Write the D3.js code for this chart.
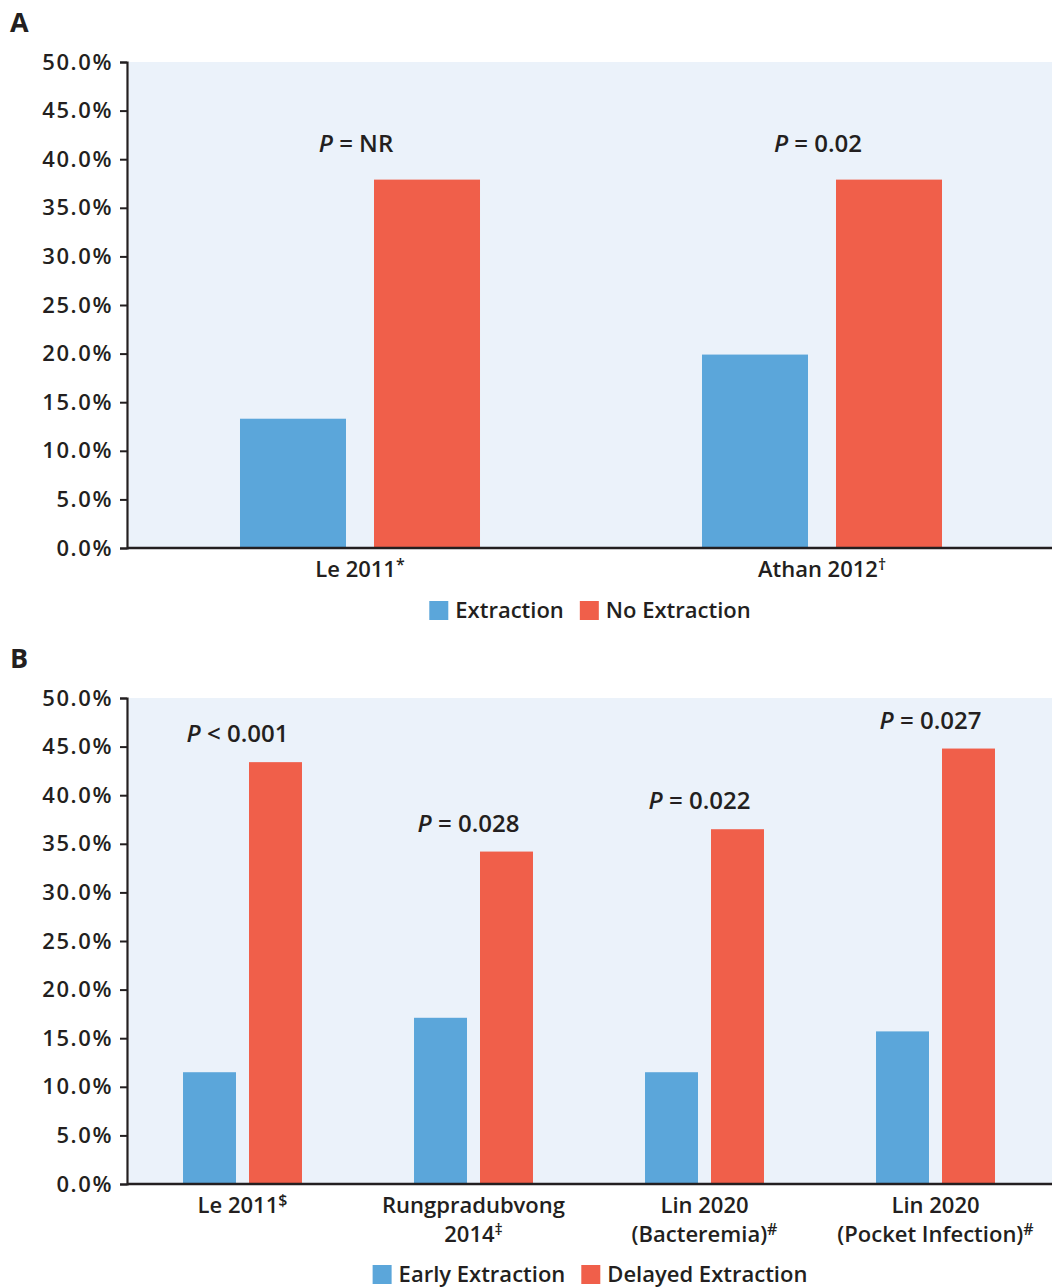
<!DOCTYPE html>
<html>
<head>
<meta charset="utf-8">
<script src="https://cdn.jsdelivr.net/npm/d3@7"></script>
<style>
  body { margin: 0; background: #fff; }
  svg text { font-family: "Open Sans", "Noto Sans", sans-serif; fill: #231F20; font-weight: 600; }
</style>
</head>
<body>
<div class="graph"></div>
<script>
// data - panel A
let categoriesA = [["Le 2011", "*"], ["Athan 2012", "†"]]
let extractionA = [13.3, 19.9]
let noExtractionA = [37.9, 37.9]
let pValuesA = ["= NR", "= 0.02"]
let seriesA = ["Extraction", "No Extraction"]

// data - panel B
let categoriesB = [
    [["Le 2011", "$"]],
    [["Rungpradubvong", ""], ["2014", "‡"]],
    [["Lin 2020", ""], ["(Bacteremia)", "#"]],
    [["Lin 2020", ""], ["(Pocket Infection)", "#"]]
]
let earlyB = [11.5, 17.1, 11.5, 15.7]
let delayedB = [43.4, 34.2, 36.5, 44.8]
let pValuesB = ["< 0.001", "= 0.028", "= 0.022", "= 0.027"]
let seriesB = ["Early Extraction", "Delayed Extraction"]

let yTicks = [0, 5, 10, 15, 20, 25, 30, 35, 40, 45, 50]

//global variables
let svgWidth = 1052
let svgHeight = 1287
let colors = ["#5BA6DA", "#F05F4A"]
let ink = "#231F20"

let svg = d3.select('.graph')
    .append('svg')
    .attr('width', svgWidth)
    .attr('height', svgHeight)

function drawPanel(opt) {
    let width = 1052 - opt.left
    let height = opt.bottom - opt.top

    let g = svg.append('g')
        .attr('transform', `translate(${opt.left},${opt.top})`)

    // panel letter
    svg.append('text')
        .attr('x', 10)
        .attr('y', opt.top - 30)
        .attr('font-size', 27)
        .style('font-weight', 700)
        .text(opt.letter)

    // background
    g.append('rect')
        .attr('x', 1).attr('y', 0)
        .attr('width', width - 1).attr('height', height)
        .attr('fill', '#EBF2FA')

    let idx = d3.range(opt.cats.length)
    let x0 = d3.scaleBand()
        .domain(idx)
        .range([opt.xShift, width + opt.xShift])
        .paddingInner(opt.padInner)
        .paddingOuter(opt.padInner / 2)
    let x1 = d3.scaleBand()
        .domain([0, 1])
        .range([0, x0.bandwidth()])
        .paddingInner(opt.barGap)
    let yScale = d3.scaleLinear()
        .domain([0, 50])
        .range([height, 0])

    // bars
    let rows = idx.map(i => ({ i: i, vals: [opt.s1[i], opt.s2[i]] }))
    let groups = g.selectAll('.grp')
        .data(rows)
        .join('g')
        .attr('transform', d => `translate(${x0(d.i)},0)`)
    groups.selectAll('rect')
        .data(d => d.vals.map((v, k) => ({ v: v, k: k })))
        .join('rect')
        .attr('x', d => x1(d.k))
        .attr('y', d => yScale(d.v))
        .attr('width', x1.bandwidth())
        .attr('height', d => height - yScale(d.v))
        .attr('fill', d => colors[d.k])

    // p values
    let pLab = g.selectAll('.plab')
        .data(rows)
        .join('text')
        .attr('class', 'plab')
        .attr('x', d => x0(d.i) + x0.bandwidth() / 2 + opt.pShift)
        .attr('y', d => yScale(d3.max(d.vals)) - opt.pGap)
        .attr('text-anchor', 'middle')
        .attr('font-size', 24)
    pLab.append('tspan').attr('font-style', 'italic').text('P')
    pLab.append('tspan').text(d => ' ' + opt.pvals[d.i])

    // axes
    let yAxis = d3.axisLeft(yScale)
        .tickValues(yTicks)
        .tickSize(7)
        .tickFormat(d => d3.format('.1f')(d) + '%')
    let ya = g.append('g')
        .attr('transform', 'translate(-1,0)')
        .call(yAxis)
    ya.select('.domain').attr('stroke', ink).attr('stroke-width', 2.2)
    ya.selectAll('.tick line').attr('stroke', ink).attr('stroke-width', 2)
    ya.selectAll('.tick text')
        .attr('font-size', 22)
        .attr('x', -14)
        .attr('fill', ink)
        .style('font-family', '"Open Sans", sans-serif')
        .style('letter-spacing', '1.6px')

    g.append('line')
        .attr('x1', -1).attr('x2', width)
        .attr('y1', height).attr('y2', height)
        .attr('stroke', ink).attr('stroke-width', 2.5)

    // category labels
    let cl = g.selectAll('.clab')
        .data(opt.cats)
        .join('text')
        .attr('class', 'clab')
        .attr('text-anchor', 'middle')
        .attr('font-size', 22)
        .attr('transform', (d, i) => `translate(${x0(i) + x0.bandwidth() / 2},${height + 29})`)
    cl.each(function(lines) {
        let t = d3.select(this)
        lines.forEach((ln, j) => {
            t.append('tspan')
                .attr('x', 0)
                .attr('y', j * 29)
                .text(ln[0])
            if (ln[1]) {
                t.append('tspan')
                    .attr('font-size', 16)
                    .attr('dy', -7)
                    .text(ln[1])
            }
        })
    })

    // legend
    let leg = svg.append('g')
    let items = leg.selectAll('g')
        .data(opt.series)
        .join('g')
    items.append('rect')
        .attr('width', 19).attr('height', 19)
        .attr('y', -17)
        .attr('fill', (d, i) => colors[i])
    items.append('text')
        .attr('x', 26)
        .attr('font-size', 22)
        .text(d => d)
    let xOff = 0
    items.each(function() {
        d3.select(this).attr('transform', `translate(${xOff},0)`)
        xOff += this.getBBox().width + 16
    })
    let total = xOff - 16
    leg.attr('transform', `translate(${opt.left + width / 2 - total / 2},${opt.legendY})`)
}

drawPanel({
    letter: 'A', top: 62, bottom: 548, left: 128, xShift: 1,
    cats: categoriesA.map(c => [c]), s1: extractionA, s2: noExtractionA,
    pvals: pValuesA, series: seriesA,
    padInner: 0.4805, barGap: 0.209, pShift: -4, pGap: 28, legendY: 618
})

drawPanel({
    letter: 'B', top: 698, bottom: 1184, left: 128, xShift: -1,
    cats: categoriesB, s1: earlyB, s2: delayedB,
    pvals: pValuesB, series: seriesB,
    padInner: 0.485, barGap: 0.197, pShift: -5, pGap: 20, legendY: 1282
})
</script>
</body>
</html>
